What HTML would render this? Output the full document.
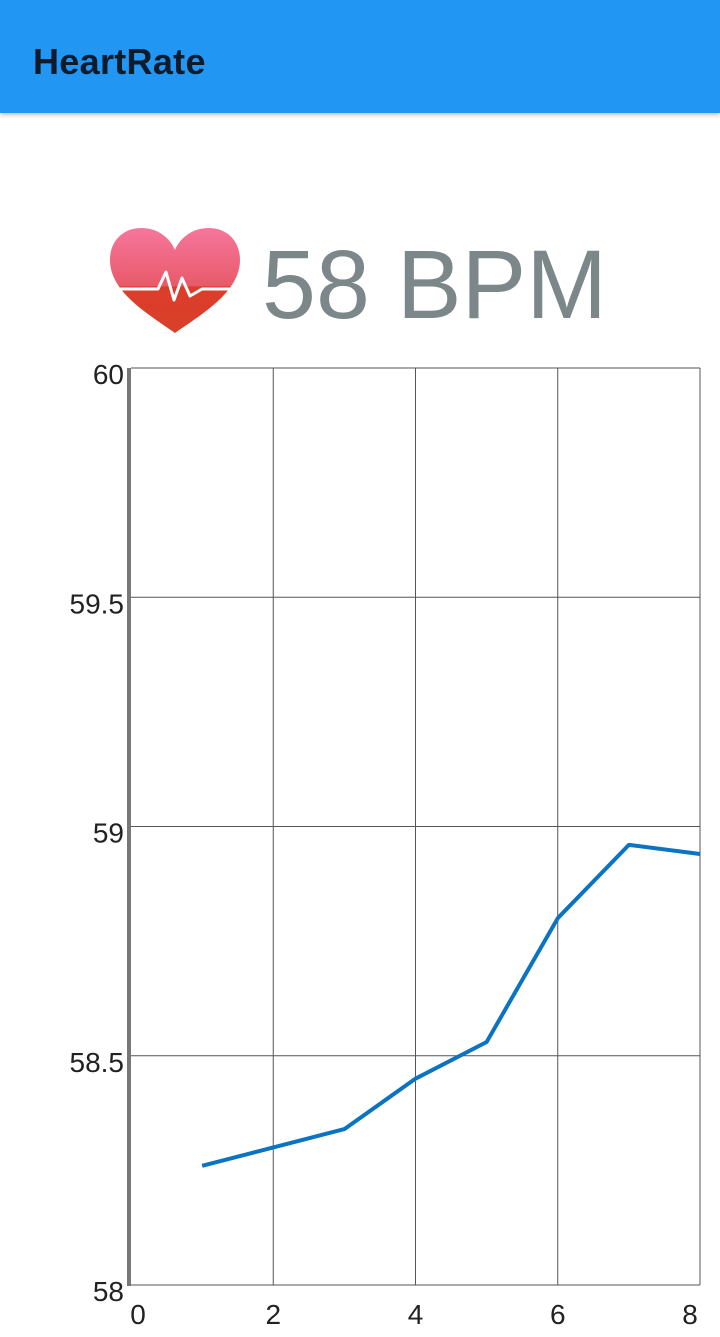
<!DOCTYPE html>
<html><head><meta charset="utf-8"><style>
body{margin:0;width:720px;height:1337px;background:#fff;overflow:hidden;font-family:"Liberation Sans",sans-serif;position:relative}
.bar{position:absolute;left:0;top:0;width:720px;height:113px;background:#2196F3;box-shadow:0 2px 4px rgba(0,0,0,.25)}
.title{position:absolute;left:33px;top:41px;font-size:36px;color:#0d1b2a;font-weight:bold;letter-spacing:0.3px}
.bpm{position:absolute;left:262px;top:230px;font-size:97px;color:#7b8789;line-height:110px}
</style></head><body>
<div class="bar"><div class="title">HeartRate</div></div>
<svg style="position:absolute;left:108px;top:226px" width="136" height="110" viewBox="0 0 136 110">
<defs><linearGradient id="g" x1="0" y1="0" x2="0" y2="1"><stop offset="0" stop-color="#f6769c"/><stop offset=".55" stop-color="#e85a6a"/><stop offset=".56" stop-color="#dc3d2a"/><stop offset="1" stop-color="#d8402a"/></linearGradient></defs>
<path d="M67 107 C40 88 2 66 2 34 C2 14 16 2 33 2 C50 2 62 12 67 24 C72 12 84 2 101 2 C118 2 132 14 132 34 C132 66 94 88 67 107 Z" fill="url(#g)"/>
<path d="M10 63 L50 63 L58 46 L66 74 L74 52 L82 70 L94 63 L128 63" fill="none" stroke="#fff" stroke-width="3" stroke-linejoin="round"/>
</svg>
<div class="bpm">58 BPM</div>
<svg id="chart" style="position:absolute;left:0;top:0" width="720" height="1337"></svg>
<script>
const xTicks=[0,2,4,6,8];
const yTicks=[58,58.5,59,59.5,60];
const yLabels=["58","58.5","59","59.5","60"];
const xs=[1,2,3,4,5,6,7,8];
const ys=[58.26,58.30,58.34,58.45,58.53,58.80,58.96,58.94];
const L=131,R=700,T=368,B=1285;
const X=v=>L+(v-0)/8*(R-L);
const Y=v=>B-(v-58)/2*(B-T);
const svg=document.getElementById('chart');const NS='http://www.w3.org/2000/svg';
function mk(t,a){const e=document.createElementNS(NS,t);for(const k in a)e.setAttribute(k,a[k]);svg.appendChild(e);return e;}
xTicks.forEach(v=>{if(v>0){const l=mk('line',{x1:X(v),x2:X(v),y1:T,y2:B,stroke:'#555','stroke-width':1});

}
const t=mk('text',{x:v==0?X(v)+7:(v==8?X(v)-10:X(v)),y:1324,'text-anchor':'middle','font-size':28,fill:'#222','font-family':'Liberation Sans, sans-serif'});t.textContent=v;

});
yTicks.forEach((v,i)=>{const l=mk('line',{x1:L,x2:R,y1:Y(v),y2:Y(v),stroke:'#555','stroke-width':1});


const t=mk('text',{x:124,y:Y(v)+16,'text-anchor':'end','font-size':28,fill:'#222','font-family':'Liberation Sans, sans-serif'});t.textContent=yLabels[i];

});
const ax=mk('rect',{x:127,y:T,width:4,height:B-T+1,fill:'#777'});


const p=mk('polyline',{points:xs.map((x,i)=>X(x)+','+Y(ys[i])).join(' '),fill:'none',stroke:'#0a74c2','stroke-width':4,'stroke-linejoin':'round'});


</script>
</body></html>
